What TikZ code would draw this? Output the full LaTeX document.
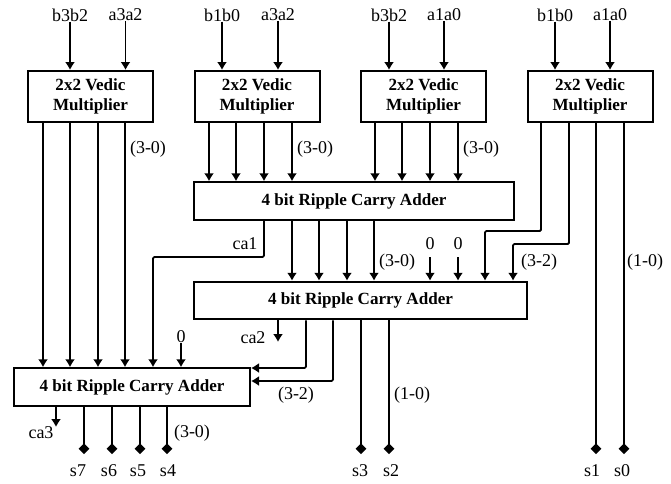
\documentclass[tikz,border=0pt]{standalone}
\usepackage{fontspec}
\setmainfont{Liberation Serif}
\usetikzlibrary{arrows.meta}
\tikzset{
  blockbox/.style={draw=black,line width=1.5pt,fill=white,inner sep=0pt,align=center,font=\fontsize{12.8}{14.5}\selectfont\bfseries},
  mult/.style={blockbox,minimum width=125*0.75pt,minimum height=51*0.75pt},
  adder/.style={blockbox,minimum height=37.5*0.75pt},
  tag/.style={inner sep=0pt,font=\fontsize{13.5}{14}\selectfont},
  wire/.style={line width=1.4pt,black},
  arrowwire/.style={wire,-{Latex[length=6pt,width=7.6pt]}},
  outwire/.style={wire,-{Diamond[length=8pt,width=8pt]}}
}
\begin{document}
\begin{tikzpicture}[x=0.75pt,y=-0.75pt]
\useasboundingbox (0,0) rectangle (671,483);
% blocks
\node[mult] (m1) at (90.5,96.5) {2x2 Vedic\\Multiplier};
\node[mult] (m2) at (257,96.5) {2x2 Vedic\\Multiplier};
\node[mult] (m3) at (423.5,96.5) {2x2 Vedic\\Multiplier};
\node[mult] (m4) at (590,96.5) {2x2 Vedic\\Multiplier};
\node[adder,minimum width=320*0.75pt] (a1) at (354,201) {4 bit Ripple Carry Adder};
\node[adder,minimum width=333*0.75pt] (a2) at (360.5,300.5) {4 bit Ripple Carry Adder};
\node[adder,minimum width=236*0.75pt] (a3) at (132,387) {4 bit Ripple Carry Adder};
% input labels
\node[tag] (i1) at (70,15) {b3b2};
\node[tag] (i2) at (125.5,15) {a3a2};
\node[tag] (i3) at (222,15) {b1b0};
\node[tag] (i4) at (278,15) {a3a2};
\node[tag] (i5) at (389,15) {b3b2};
\node[tag] (i6) at (444,15) {a1a0};
\node[tag] (i7) at (555,15) {b1b0};
\node[tag] (i8) at (610,15) {a1a0};
\foreach \n/\m in {i1/m1,i2/m1,i3/m2,i4/m2,i5/m3,i6/m3,i7/m4,i8/m4}
  \draw[arrowwire] (\n.south) -- (\m.north -| \n);
% lanes (x positions)
\foreach \x in {43,70,98,125,153,181,209,236,264,292,319,347,374,375,402,430,458,485,513,541,569,596,624,306,333,361,389,278,56,84,112,140,167}
  \coordinate (L\x) at (\x,0);
% m1 to a3
\foreach \x in {43,70,98,125}
  \draw[arrowwire] (m1.south -| L\x) -- (a3.north -| L\x);
% m2 and m3 to a1
\foreach \x in {209,236,264,292}
  \draw[arrowwire] (m2.south -| L\x) -- (a1.north -| L\x);
\foreach \x in {375,402,430,458}
  \draw[arrowwire] (m3.south -| L\x) -- (a1.north -| L\x);
% a1 to a2
\foreach \x in {292,319,347,374}
  \draw[arrowwire] (a1.south -| L\x) -- (a2.north -| L\x);
% a1 carry
\coordinate (c1) at (264,257);
\draw[arrowwire,rounded corners=1pt] (a1.south -| L264) -- (c1) -- (c1 -| L153) -- (a3.north -| L153);
% m4 outputs
\coordinate (r1) at (541,231);
\coordinate (r2) at (569,244);
\draw[arrowwire,rounded corners=1pt] (m4.south -| L541) -- (r1) -- (r1 -| L485) -- (a2.north -| L485);
\draw[arrowwire,rounded corners=1pt] (m4.south -| L569) -- (r2) -- (r2 -| L513) -- (a2.north -| L513);
% zero inputs
\node[tag] (z1) at (430,244) {0};
\node[tag] (z2) at (458,244) {0};
\node[tag] (z3) at (181,337) {0};
\draw[arrowwire] (z1.south) ++(0,7) -- (a2.north -| z1);
\draw[arrowwire] (z2.south) ++(0,7) -- (a2.north -| z2);
\draw[arrowwire] (z3.south) -- (a3.north -| z3);
% a2 to a3
\coordinate (q1) at (306,368);
\coordinate (q2) at (333,381);
\draw[arrowwire,rounded corners=1pt] (a2.south -| L306) -- (q1) -- (q1 -| a3.east);
\draw[arrowwire,rounded corners=1pt] (a2.south -| L333) -- (q2) -- (q2 -| a3.east);
% carries
\coordinate (k2) at (278,342);
\coordinate (k3) at (56,427);
\draw[arrowwire] (a2.south -| L278) -- (k2);
\draw[arrowwire] (a3.south -| L56) -- (k3);
\node[tag] (ca1) at (245,244) {ca1};
\node[tag] (ca2) at (253,338) {ca2};
\node[tag] (ca3) at (41,433) {ca3};
% outputs
\node[tag] (s7) at (78,471) {s7};
\node[tag] (s6) at (109,471) {s6};
\node[tag] (s5) at (138,471) {s5};
\node[tag] (s4) at (168,471) {s4};
\node[tag] (s3) at (360,471) {s3};
\node[tag] (s2) at (391,471) {s2};
\node[tag] (s1) at (592,471) {s1};
\node[tag] (s0) at (622,471) {s0};
\coordinate (e) at (0,454);
\foreach \x/\n in {84/s7,112/s6,140/s5,167/s4}
  \draw[outwire] (a3.south -| L\x) -- (e -| L\x);
\foreach \x/\n in {361/s3,389/s2}
  \draw[outwire] (a2.south -| L\x) -- (e -| L\x);
\foreach \x/\n in {596/s1,624/s0}
  \draw[outwire] (m4.south -| L\x) -- (e -| L\x);
% bit-range labels
\node[tag] at (148,149) {(3-0)};
\node[tag] at (315,149) {(3-0)};
\node[tag] at (481,149) {(3-0)};
\node[tag] at (397,262) {(3-0)};
\node[tag] at (539,262) {(3-2)};
\node[tag] at (645,262) {(1-0)};
\node[tag] at (296,395) {(3-2)};
\node[tag] at (412,395) {(1-0)};
\node[tag] at (192,433) {(3-0)};
\end{tikzpicture}
\end{document}
